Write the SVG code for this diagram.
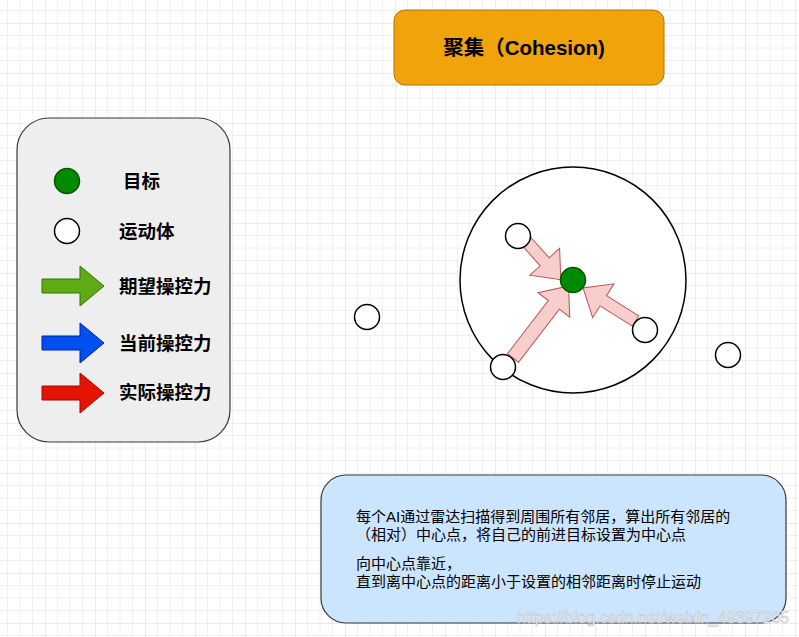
<svg xmlns="http://www.w3.org/2000/svg" width="799" height="637" viewBox="0 0 799 637">
<defs>
<pattern id="grid" x="45" y="23" width="50" height="50" patternUnits="userSpaceOnUse">
<path d="M12.5 0V50M25 0V50M37.5 0V50M0 12.5H50M0 25H50M0 37.5H50" stroke="#f0f0f0" stroke-width="1" fill="none"/>
<path d="M0 0V50M0 0H50" stroke="#d9d9d9" stroke-width="1" fill="none"/>
</pattern>
<style>
.cjk{font-family:"Liberation Sans","Noto Sans CJK SC",sans-serif;}
.leg{font-size:18.5px;font-weight:bold;fill:#000;}
.info{font-size:15px;fill:#000;}
.pink{fill:#f8cecc;stroke:#b85450;stroke-width:1;}
.mover{fill:#fff;stroke:#000;stroke-width:1.5;}
.target{fill:#008a00;stroke:#005700;stroke-width:1.5;}
</style>
</defs>
<rect width="799" height="637" fill="#fff"/>
<rect width="799" height="637" fill="url(#grid)"/>

<g id="title">
<rect x="394" y="10" width="270" height="75" rx="11" fill="#f0a30a" stroke="#bd7000" stroke-width="1"/>
<text x="524" y="55" text-anchor="middle" class="cjk" font-size="20.5" font-weight="bold">聚集（Cohesion)</text>
</g>

<g id="legend">
<rect x="17" y="118" width="213" height="324" rx="32" fill="#eeeeee" stroke="#36393d" stroke-width="1.2"/>
<circle cx="67" cy="181" r="12.5" class="target"/>
<text x="123" y="188" class="cjk leg">目标</text>
<circle cx="67" cy="231" r="12.5" class="mover"/>
<text x="119" y="238" class="cjk leg">运动体</text>
<path d="M42 279H80V266L104 286L80 306V293H42Z" fill="#60a917" stroke="#2d7600" stroke-width="1"/>
<text x="119" y="293" class="cjk leg">期望操控力</text>
<path d="M42 336H80V323L104 343L80 363V350H42Z" fill="#0050ef" stroke="#001dbc" stroke-width="1"/>
<text x="119" y="350" class="cjk leg">当前操控力</text>
<path d="M42 386H80V373L104 393L80 413V400H42Z" fill="#e51400" stroke="#b20000" stroke-width="1"/>
<text x="119" y="399" class="cjk leg">实际操控力</text>
</g>

<g id="range">
<circle cx="573" cy="280" r="113" fill="#fff" stroke="#000" stroke-width="1.5"/>
</g>

<g id="connectors">
<path class="pink" d="M0 -6H28V-20L52 0L28 20V6H0Z" transform="translate(526 241) rotate(48)"/>
<path class="pink" d="M0 -7H67V-20L91 0L67 20V7H0Z" transform="translate(513 358) rotate(-52.4)"/>
<path class="pink" d="M0 -6H38V-20L62 0L38 20V6H0Z" transform="translate(635.5 321) rotate(212.2)"/>
</g>

<g id="target"><circle cx="573" cy="280" r="12.5" class="target"/></g>
<g id="mover1"><circle cx="518" cy="236" r="12.5" class="mover"/></g>
<g id="mover2"><circle cx="645" cy="330" r="12.5" class="mover"/></g>
<g id="mover3"><circle cx="503" cy="367" r="12.5" class="mover"/></g>
<g id="mover4"><circle cx="367" cy="317" r="12.5" class="mover"/></g>
<g id="mover5"><circle cx="728" cy="355" r="12.5" class="mover"/></g>

<g id="info">
<rect x="321" y="475" width="465" height="148" rx="25" fill="#cce5ff" stroke="#36393d" stroke-width="1.2"/>
<text x="356" y="522" class="cjk info">每个AI通过雷达扫描得到周围所有邻居，算出所有邻居的</text>
<text x="356" y="540" class="cjk info">（相对）中心点，将自己的前进目标设置为中心点</text>
<text x="356" y="569" class="cjk info">向中心点靠近，</text>
<text x="356" y="587" class="cjk info">直到离中心点的距离小于设置的相邻距离时停止运动</text>
</g>

<text x="517" y="623" font-family="Liberation Sans, Arial, sans-serif" font-size="16" fill="#f2f2f2" stroke="#bdbdbd" stroke-width="0.5">https://blog.csdn.net/weixin_49397205</text>
</svg>
